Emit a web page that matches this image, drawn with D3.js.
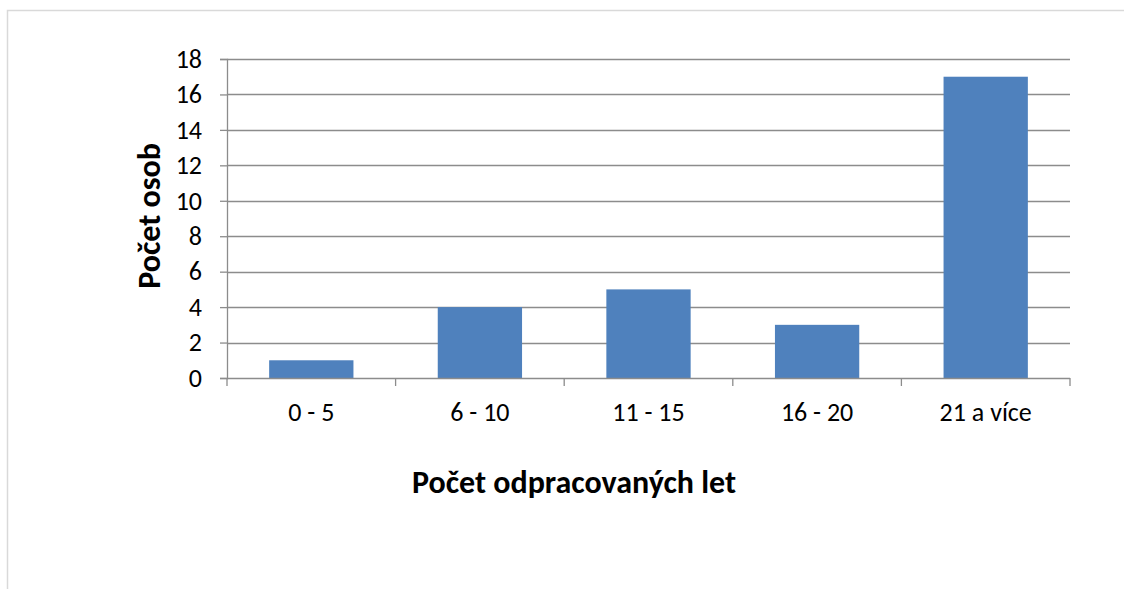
<!DOCTYPE html>
<html>
<head>
<meta charset="utf-8">
<script src="https://cdn.jsdelivr.net/npm/d3@7"></script>
<style>
  body { margin: 0; background: #fff; }
  svg { display: block; font-family: Carlito, Calibri, "Open Sans", sans-serif; }
</style>
</head>
<body>
<svg id="chart" width="1124" height="589"></svg>
<script>
// data
var categories = ["0 - 5", "6 - 10", "11 - 15", "16 - 20", "21 a více"];
var values = [1, 4, 5, 3, 17];
var yTicks = [0, 2, 4, 6, 8, 10, 12, 14, 16, 18];

var svg = d3.select("svg#chart");

// outer chart frame (runs off the right and bottom edges)
svg.append("rect")
    .attr("x", 7.5).attr("y", 10.5)
    .attr("width", 1130).attr("height", 600)
    .attr("fill", "none")
    .attr("stroke", "#d9d9d9")
    .attr("stroke-width", 1.5);

var margin = {top: 59, left: 227, right: 1070, bottom: 378};

var x = d3.scaleBand()
    .domain(categories)
    .range([margin.left, margin.right])
    .paddingInner(0.5)
    .paddingOuter(0.25);

var y = d3.scaleLinear()
    .domain([0, 18])
    .range([margin.bottom, margin.top]);

// gridlines
svg.append("g")
  .selectAll("line")
  .data(yTicks.filter(d => d > 0))
  .enter().append("line")
    .attr("x1", margin.left).attr("x2", margin.right)
    .attr("y1", d => Math.round(y(d)) + 0.5)
    .attr("y2", d => Math.round(y(d)) + 0.5)
    .attr("stroke", "#8c8c8c")
    .attr("stroke-width", 1.3);

// bars
svg.append("g")
  .selectAll("rect")
  .data(values)
  .enter().append("rect")
    .attr("x", (d, i) => x(categories[i]))
    .attr("y", d => y(d))
    .attr("width", x.bandwidth())
    .attr("height", d => y(0) - y(d))
    .attr("fill", "#4f81bd");

// y axis
var yAxis = svg.append("g")
    .attr("transform", "translate(" + margin.left + ",0)")
    .call(d3.axisLeft(y).tickValues(yTicks).tickSize(7).tickPadding(18));
yAxis.select(".domain").attr("stroke", "#8c8c8c").attr("stroke-width", 1.3);
yAxis.selectAll(".tick line").attr("stroke", "#8c8c8c").attr("stroke-width", 1.3);
yAxis.selectAll("text")
    .attr("font-size", "26px")
    .attr("fill", "#000")
    .attr("font-family", "Carlito, Calibri, 'Open Sans', sans-serif");

// x axis: ticks at category boundaries
var bounds = d3.range(categories.length + 1)
    .map(i => margin.left + i * (margin.right - margin.left) / categories.length);
var xAxisG = svg.append("g");
xAxisG.append("line")
    .attr("x1", margin.left).attr("x2", margin.right)
    .attr("y1", margin.bottom + 0.5).attr("y2", margin.bottom + 0.5)
    .attr("stroke", "#8c8c8c").attr("stroke-width", 1.3);
xAxisG.selectAll("line.tk")
  .data(bounds)
  .enter().append("line")
    .attr("class", "tk")
    .attr("x1", d => d).attr("x2", d => d)
    .attr("y1", margin.bottom).attr("y2", margin.bottom + 8)
    .attr("stroke", "#8c8c8c").attr("stroke-width", 1.3);
xAxisG.selectAll("text")
  .data(categories)
  .enter().append("text")
    .attr("x", d => x(d) + x.bandwidth() / 2)
    .attr("y", 421)
    .attr("text-anchor", "middle")
    .attr("font-size", "26px")
    .text(d => d);

// axis titles
svg.append("text")
    .attr("x", 574)
    .attr("y", 493)
    .attr("text-anchor", "middle")
    .attr("font-size", "32px")
    .attr("font-weight", "bold")
    .text("Počet odpracovaných let");

svg.append("text")
    .attr("transform", "translate(160,216) rotate(-90)")
    .attr("text-anchor", "middle")
    .attr("font-size", "32px")
    .attr("font-weight", "bold")
    .text("Počet osob");
</script>
</body>
</html>
